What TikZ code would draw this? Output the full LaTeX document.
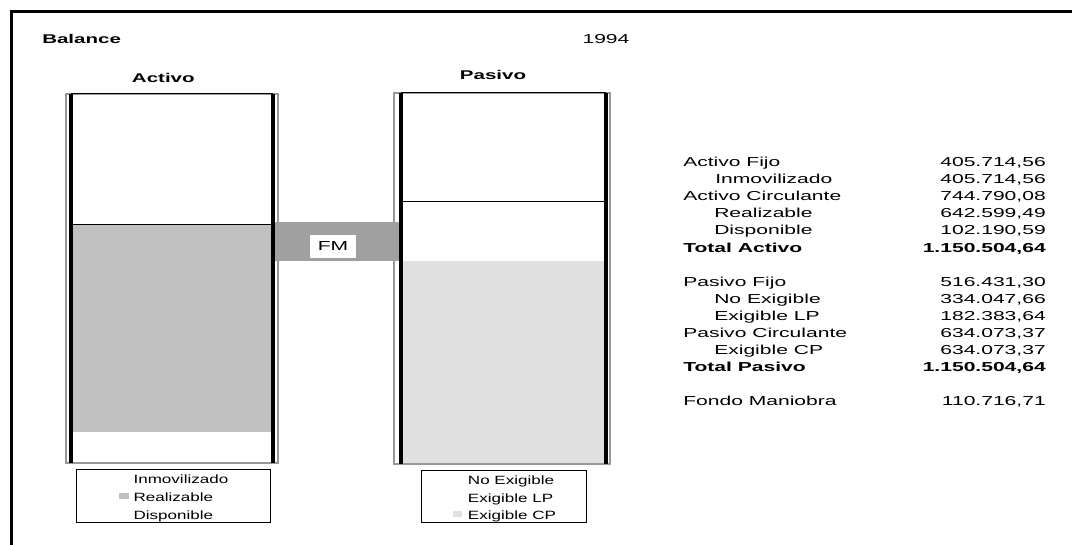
\documentclass[tikz,border=0pt]{standalone}
\usepackage{fontspec}
\setmainfont{Liberation Sans}
\newfontfamily\tabf{Liberation Sans}[FakeStretch=1.62]
\newfontfamily\legf{Liberation Sans}[FakeStretch=1.42]
\definecolor{realiz}{HTML}{C0C0C0}
\definecolor{exigcp}{HTML}{E0E0E0}
\definecolor{fmgray}{HTML}{A0A0A0}
\definecolor{rimgray}{HTML}{999999}
\begin{document}
\begin{tikzpicture}[x=0.75pt,y=-0.75pt,
  tabtxt/.style={inner sep=0pt, anchor=base west, font=\tabf\fontsize{9.75pt}{11pt}\selectfont},
  tabnum/.style={inner sep=0pt, anchor=base east, font=\tabf\fontsize{9.75pt}{11pt}\selectfont},
  tabbold/.style={tabtxt, font=\tabf\bfseries\fontsize{9.75pt}{11pt}\selectfont},
  tabboldnum/.style={tabnum, font=\tabf\bfseries\fontsize{9.75pt}{11pt}\selectfont},
  title/.style={inner sep=0pt, anchor=base, font=\tabf\bfseries\fontsize{9.5pt}{11pt}\selectfont},
  legtxt/.style={inner sep=0pt, anchor=base west, font=\legf\fontsize{9pt}{10pt}\selectfont},
  rim/.style={draw=rimgray, line width=1.2pt},
  wall/.style={line width=2.5pt},
  thin/.style={line width=0.75pt},
  legbox/.style={draw, line width=0.7pt},
]
\useasboundingbox (0,0) rectangle (1072,545);
\fill[white] (0,0) rectangle (1072,545);
% frame
\draw[line width=2.3pt] (1072,11.5) -- (11.5,11.5) -- (11.5,545);

% headings
\node[title, anchor=base west] (bal) at (42,44) {Balance};
\node[inner sep=0pt, anchor=base, font=\tabf\fontsize{9.75pt}{11pt}\selectfont] (year) at (606,44) {1994};
\node[title] (tact) at (163.3,82.3) {Activo};
\node[title] (tpas) at (493,79.3) {Pasivo};

% Activo column
\fill[realiz] (71,225) rectangle (273,432);
\draw[rim] (66,94) rectangle (278,463);
% Pasivo column
\fill[exigcp] (401,261) rectangle (606,464);
\draw[rim] (394,93) rectangle (610,464);

% FM band
\fill[fmgray] (275,222) rectangle (400,261);
\node[fill=white, minimum width=34.5pt, minimum height=17pt, inner sep=0pt,
      font=\tabf\fontsize{9.75pt}{11pt}\selectfont] (fm) at (333,246.5) {FM};

% thin lines
\draw[thin] (71,94) -- (273,94);
\draw[thin] (71,225) -- (273,225);
\draw[thin] (401,93) -- (606,93);
\draw[thin] (401,202) -- (606,202);

% walls
\draw[wall] (71,94) -- (71,463);
\draw[wall] (273,94) -- (273,463);
\draw[wall] (401,93) -- (401,464);
\draw[wall] (606,93) -- (606,464);

% legends
\draw[legbox] (76,469) rectangle (270,522);
\fill[realiz] (119,493.3) rectangle (129,499);
\node[legtxt] (l1) at (133.3,483.3) {Inmovilizado};
\node[legtxt] (l2) at (133.3,501.7) {Realizable};
\node[legtxt] (l3) at (133.3,519.3) {Disponible};

\draw[legbox] (421,470) rectangle (586,522);
\fill[exigcp] (453.3,511) rectangle (462.3,516.7);
\node[legtxt] (p1) at (467.7,484.3) {No Exigible};
\node[legtxt] (p2) at (467.7,502.7) {Exigible LP};
\node[legtxt] (p3) at (467.7,519.3) {Exigible CP};

% table
\node[tabtxt] (a1) at (683,166.6) {Activo Fijo};
\node[tabtxt] (a2) at (715,183.7) {Inmovilizado};
\node[tabtxt] (a3) at (683,200.8) {Activo Circulante};
\node[tabtxt] (a4) at (714,217.9) {Realizable};
\node[tabtxt] (a5) at (714,235) {Disponible};
\node[tabbold] (a6) at (683,252.1) {Total Activo};
\node[tabnum] (n1) at (1046,166.6) {405.714,56};
\node[tabnum] (n2) at (1046,183.7) {405.714,56};
\node[tabnum] (n3) at (1046,200.8) {744.790,08};
\node[tabnum] (n4) at (1046,217.9) {642.599,49};
\node[tabnum] (n5) at (1046,235) {102.190,59};
\node[tabboldnum] (n6) at (1046,252.1) {1.150.504,64};

\node[tabtxt] (b1) at (683,286.3) {Pasivo Fijo};
\node[tabtxt] (b2) at (714,303.4) {No Exigible};
\node[tabtxt] (b3) at (714,320.5) {Exigible LP};
\node[tabtxt] (b4) at (683,337.6) {Pasivo Circulante};
\node[tabtxt] (b5) at (714,354.7) {Exigible CP};
\node[tabbold] (b6) at (683,371.8) {Total Pasivo};
\node[tabnum] (m1) at (1046,286.3) {516.431,30};
\node[tabnum] (m2) at (1046,303.4) {334.047,66};
\node[tabnum] (m3) at (1046,320.5) {182.383,64};
\node[tabnum] (m4) at (1046,337.6) {634.073,37};
\node[tabnum] (m5) at (1046,354.7) {634.073,37};
\node[tabboldnum] (m6) at (1046,371.8) {1.150.504,64};

\node[tabtxt] (c1) at (683,406) {Fondo Maniobra};
\node[tabnum] (k1) at (1046,406) {110.716,71};
\end{tikzpicture}
\end{document}
